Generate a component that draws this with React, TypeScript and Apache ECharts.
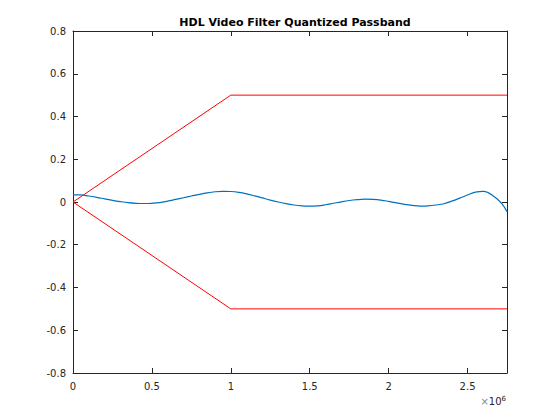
import React, { useEffect, useRef } from "react";
import * as echarts from "echarts";

const title = "HDL Video Filter Quantized Passband";
const xTicks = [0, 0.5e6, 1e6, 1.5e6, 2e6, 2.5e6];
const yTicks = [-0.8, -0.6, -0.4, -0.2, 0, 0.2, 0.4, 0.6, 0.8];

// Passband response (frequency in MHz units, magnitude)
const freqM = [
  0, 0.05, 0.1, 0.15, 0.2, 0.25, 0.3, 0.35, 0.4, 0.45, 0.5, 0.55, 0.6, 0.65, 0.7, 0.75,
  0.8, 0.85, 0.9, 0.95, 1.0, 1.05, 1.1, 1.15, 1.2, 1.25, 1.3, 1.35, 1.4, 1.45, 1.5, 1.55,
  1.6, 1.65, 1.7, 1.75, 1.8, 1.85, 1.9, 1.95, 2.0, 2.05, 2.1, 2.15, 2.2, 2.25, 2.3, 2.35,
  2.4, 2.45, 2.5, 2.55, 2.6, 2.63, 2.66, 2.69, 2.72, 2.75,
];
const response = [
  0.033, 0.033, 0.028, 0.022, 0.015, 0.008, 0.002, -0.003, -0.006, -0.007, -0.006, -0.003,
  0.004, 0.012, 0.02, 0.028, 0.036, 0.043, 0.048, 0.05, 0.049, 0.045, 0.038, 0.029, 0.019,
  0.009, 0.0, -0.008, -0.014, -0.018, -0.019, -0.018, -0.013, -0.006, 0.001, 0.007, 0.011,
  0.013, 0.012, 0.009, 0.003, -0.004, -0.011, -0.016, -0.019, -0.018, -0.014, -0.008,
  0.004, 0.018, 0.033, 0.046, 0.05, 0.044, 0.03, 0.013, -0.01, -0.045,
];

// Mask limits
const maskFreq = [0, 1e6, 2.75e6];
const upperMask = [0, 0.5, 0.5];
const lowerMask = [0, -0.5, -0.5];

const FONT = "DejaVu Sans";
const AX = "#262626";

export default function App() {
  const ref = useRef<HTMLDivElement>(null);
  useEffect(() => {
    if (!ref.current) return;
    const chart = echarts.init(ref.current, undefined, { renderer: "svg" });
    const axisCommon = {
      type: "value" as const,
      axisLine: { show: true, onZero: false, lineStyle: { color: AX, width: 1 } },
      axisTick: { show: true, inside: true, length: 5, lineStyle: { color: AX } },
      splitLine: { show: false },
    };
    chart.setOption({
      animation: false,
      backgroundColor: "#ffffff",
      title: {
        text: title,
        left: 290,
        textAlign: "center",
        top: 12,
        textStyle: { fontFamily: FONT, fontSize: 11, fontWeight: "bold", color: "#000" },
      },
      grid: { left: 73, right: 53, top: 31, bottom: 47, containLabel: false },
      xAxis: [
        {
          ...axisCommon,
          min: 0,
          max: 2.75e6,
          interval: 0.5e6,
          position: "bottom",
          axisLabel: {
            color: AX,
            fontFamily: FONT,
            fontSize: 10,
            margin: 8,
            showMaxLabel: false,
            formatter: (v: number) => (xTicks.includes(v) ? String(v / 1e6) : ""),
          },
        },
        {
          ...axisCommon,
          min: 0,
          max: 2.75e6,
          interval: 0.5e6,
          position: "top",
          axisLabel: { show: false },
        },
      ],
      yAxis: [
        {
          ...axisCommon,
          min: -0.8,
          max: 0.8,
          interval: 0.2,
          position: "left",
          axisLabel: {
            color: AX,
            fontFamily: FONT,
            fontSize: 10,
            margin: 7,
            formatter: (v: number) => {
              const t = yTicks.find((y) => Math.abs(y - v) < 1e-9);
              return t === undefined ? "" : t === 0 ? "0" : t.toFixed(1);
            },
          },
        },
        {
          ...axisCommon,
          min: -0.8,
          max: 0.8,
          interval: 0.2,
          position: "right",
          axisLabel: { show: false },
        },
      ],
      graphic: [
        {
          type: "text",
          right: 54,
          top: 395,
          style: {
            text: "{a|×}{b|10}{c|6}",
            rich: {
              a: { fontFamily: FONT, fontSize: 10, fill: "#8a8a8a" },
              b: { fontFamily: FONT, fontSize: 10, fill: AX },
              c: { fontFamily: FONT, fontSize: 7, fill: AX, verticalAlign: "top", padding: [0, 0, 6, 0] },
            },
          },
        },
      ],
      series: [
        {
          type: "line",
          data: maskFreq.map((f, i) => [f, upperMask[i]]),
          showSymbol: false,
          lineStyle: { color: "#ff0000", width: 1 },
          itemStyle: { color: "#ff0000" },
          silent: true,
        },
        {
          type: "line",
          data: maskFreq.map((f, i) => [f, lowerMask[i]]),
          showSymbol: false,
          lineStyle: { color: "#ff0000", width: 1 },
          itemStyle: { color: "#ff0000" },
          silent: true,
        },
        {
          type: "line",
          data: freqM.map((f, i) => [f * 1e6, response[i]]),
          showSymbol: false,
          smooth: 0.4,
          lineStyle: { color: "#0072bd", width: 1.2 },
          itemStyle: { color: "#0072bd" },
          silent: true,
        },
      ],
    });
    return () => chart.dispose();
  }, []);
  return <div ref={ref} style={{ width: 560, height: 420, margin: -8 }} />;
}
